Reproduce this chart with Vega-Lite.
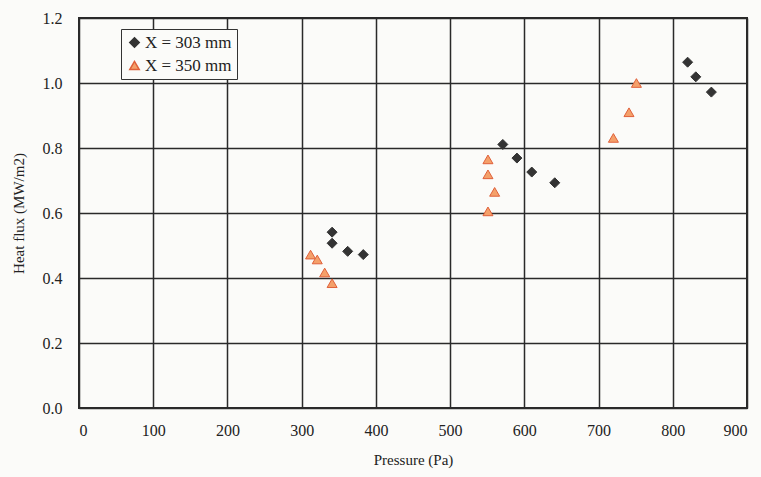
{
  "$schema": "https://vega.github.io/schema/vega-lite/v6.json",
  "width": 668,
  "height": 390,
  "autosize": {"type": "none"},
  "padding": {"left": 79, "top": 18, "right": 14, "bottom": 69},
  "background": "#fbfbf9",
  "config": {
    "font": "Liberation Serif",
    "axis": {"labelFont": "Liberation Serif", "titleFont": "Liberation Serif"},
    "legend": {"labelFont": "Liberation Serif"},
    "view": {"stroke": "#2a2a2a", "strokeWidth": 2}
  },
  "data": {
    "values": [
      {"series": "X = 303 mm", "pressure": 341, "flux": 0.541},
      {"series": "X = 303 mm", "pressure": 341, "flux": 0.507},
      {"series": "X = 303 mm", "pressure": 362, "flux": 0.482},
      {"series": "X = 303 mm", "pressure": 383, "flux": 0.472},
      {"series": "X = 303 mm", "pressure": 571, "flux": 0.811},
      {"series": "X = 303 mm", "pressure": 590, "flux": 0.769},
      {"series": "X = 303 mm", "pressure": 610, "flux": 0.726},
      {"series": "X = 303 mm", "pressure": 641, "flux": 0.693},
      {"series": "X = 303 mm", "pressure": 820, "flux": 1.064},
      {"series": "X = 303 mm", "pressure": 831, "flux": 1.019},
      {"series": "X = 303 mm", "pressure": 852, "flux": 0.972},
      {"series": "X = 350 mm", "pressure": 312, "flux": 0.472},
      {"series": "X = 350 mm", "pressure": 321, "flux": 0.457},
      {"series": "X = 350 mm", "pressure": 331, "flux": 0.417},
      {"series": "X = 350 mm", "pressure": 341, "flux": 0.384},
      {"series": "X = 350 mm", "pressure": 551, "flux": 0.765},
      {"series": "X = 350 mm", "pressure": 551, "flux": 0.719},
      {"series": "X = 350 mm", "pressure": 560, "flux": 0.665},
      {"series": "X = 350 mm", "pressure": 551, "flux": 0.605},
      {"series": "X = 350 mm", "pressure": 720, "flux": 0.831},
      {"series": "X = 350 mm", "pressure": 741, "flux": 0.91},
      {"series": "X = 350 mm", "pressure": 751, "flux": 1.0}
    ]
  },
  "mark": {"type": "point", "filled": true, "opacity": 1, "strokeWidth": 1},
  "encoding": {
    "x": {
      "field": "pressure",
      "type": "quantitative",
      "title": "Pressure (Pa)",
      "scale": {"domain": [0, 900], "nice": false},
      "axis": {
        "values": [0, 100, 200, 300, 400, 500, 600, 700, 800, 900],
        "grid": true,
        "gridColor": "#2a2a2a",
        "gridWidth": 1.5,
        "gridOpacity": 1,
        "domain": false,
        "ticks": false,
        "labelPadding": 14,
        "labelFontSize": 16,
        "labelColor": "#222",
        "titleFontSize": 15,
        "titleFontWeight": "normal",
        "titleColor": "#222",
        "titlePadding": 14
      }
    },
    "y": {
      "field": "flux",
      "type": "quantitative",
      "title": "Heat flux (MW/m2)",
      "scale": {"domain": [0, 1.2], "nice": false},
      "axis": {
        "values": [0, 0.2, 0.4, 0.6, 0.8, 1.0, 1.2],
        "format": ".1f",
        "grid": true,
        "gridColor": "#2a2a2a",
        "gridWidth": 1.5,
        "gridOpacity": 1,
        "domain": false,
        "ticks": false,
        "labelPadding": 17,
        "labelFontSize": 16,
        "labelColor": "#222",
        "titleFontSize": 15,
        "titleFontWeight": "normal",
        "titleColor": "#222",
        "titlePadding": 16
      }
    },
    "shape": {
      "field": "series",
      "type": "nominal",
      "scale": {"domain": ["X = 303 mm", "X = 350 mm"], "range": ["diamond", "triangle-up"]},
      "legend": {
        "title": null,
        "orient": "none",
        "legendX": 42,
        "legendY": 11,
        "direction": "vertical",
        "strokeColor": "#333",
        "fillColor": "#fbfbf9",
        "padding": 5,
        "labelFontSize": 17,
        "labelColor": "#222",
        "symbolSize": 90,
        "rowPadding": 5,
        "labelOffset": 2
      }
    },
    "fill": {
      "field": "series",
      "type": "nominal",
      "scale": {"domain": ["X = 303 mm", "X = 350 mm"], "range": ["#333333", "#f4a06a"]}
    },
    "stroke": {
      "field": "series",
      "type": "nominal",
      "scale": {"domain": ["X = 303 mm", "X = 350 mm"], "range": ["#333333", "#e0603a"]}
    },
    "size": {"value": 100}
  }
}
